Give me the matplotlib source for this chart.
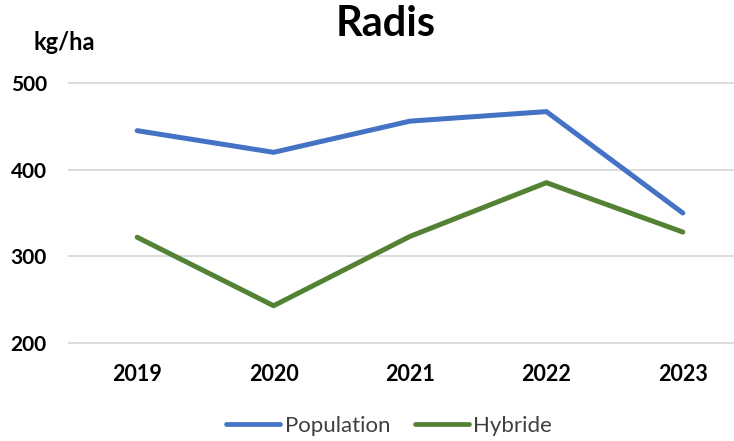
import matplotlib.pyplot as plt
from matplotlib.lines import Line2D

plt.rcParams['font.family'] = ['Lato', 'DejaVu Sans']

years = ['2019', '2020', '2021', '2022', '2023']
population = [445, 420, 456, 467, 350]
hybride = [322, 243, 323, 385, 328]
y_ticks = [200, 300, 400, 500]

BLUE = '#4472C4'
GREEN = '#548235'

W, H = 734, 441
fig = plt.figure(figsize=(W / 100, H / 100), dpi=100)
# plot area: x from 69 to 751 px (clipped on the right), y from 83 to 343 px
ax = fig.add_axes([69 / W, 1 - 343 / H, 682 / W, 260 / H])

x = range(len(years))
ax.plot(x, population, color=BLUE, lw=3.6, solid_capstyle='round', solid_joinstyle='round', zorder=3)
ax.plot(x, hybride, color=GREEN, lw=3.6, solid_capstyle='round', solid_joinstyle='round', zorder=3)

ax.set_xlim(-0.5, len(years) - 0.5)
ax.set_ylim(200, 500)
ax.set_yticks(y_ticks)
ax.set_xticks(list(x))
ax.set_xticklabels(years)
ax.grid(axis='y', color='#d9d9d9', lw=1.3, clip_on=False)
ax.set_axisbelow(True)
for s in ax.spines.values():
    s.set_visible(False)
ax.tick_params(length=0)
ax.tick_params(axis='y', pad=16, labelsize=15)
ax.tick_params(axis='x', pad=15, labelsize=15.5)
for lbl in ax.get_xticklabels() + ax.get_yticklabels():
    lbl.set_fontweight('bold')

fig.text(386 / W, 1 - 24 / H, 'Radis', ha='center', va='center', fontsize=30, fontweight='bold')
fig.text(64 / W, 1 - 43 / H, 'kg/ha', ha='center', va='center', fontsize=17, fontweight='bold')

handles = [Line2D([], [], color=BLUE, lw=3.4, solid_capstyle='round'),
           Line2D([], [], color=GREEN, lw=3.4, solid_capstyle='round')]
fig.legend(handles, ['Population', 'Hybride'], loc='center', bbox_to_anchor=(389 / W, 1 - 426 / H),
           ncol=2, frameon=False, fontsize=16, handlelength=2.45, handletextpad=0.2,
           columnspacing=1.1, labelcolor='#404040', borderpad=0)

fig.savefig('out.png', dpi=100)
